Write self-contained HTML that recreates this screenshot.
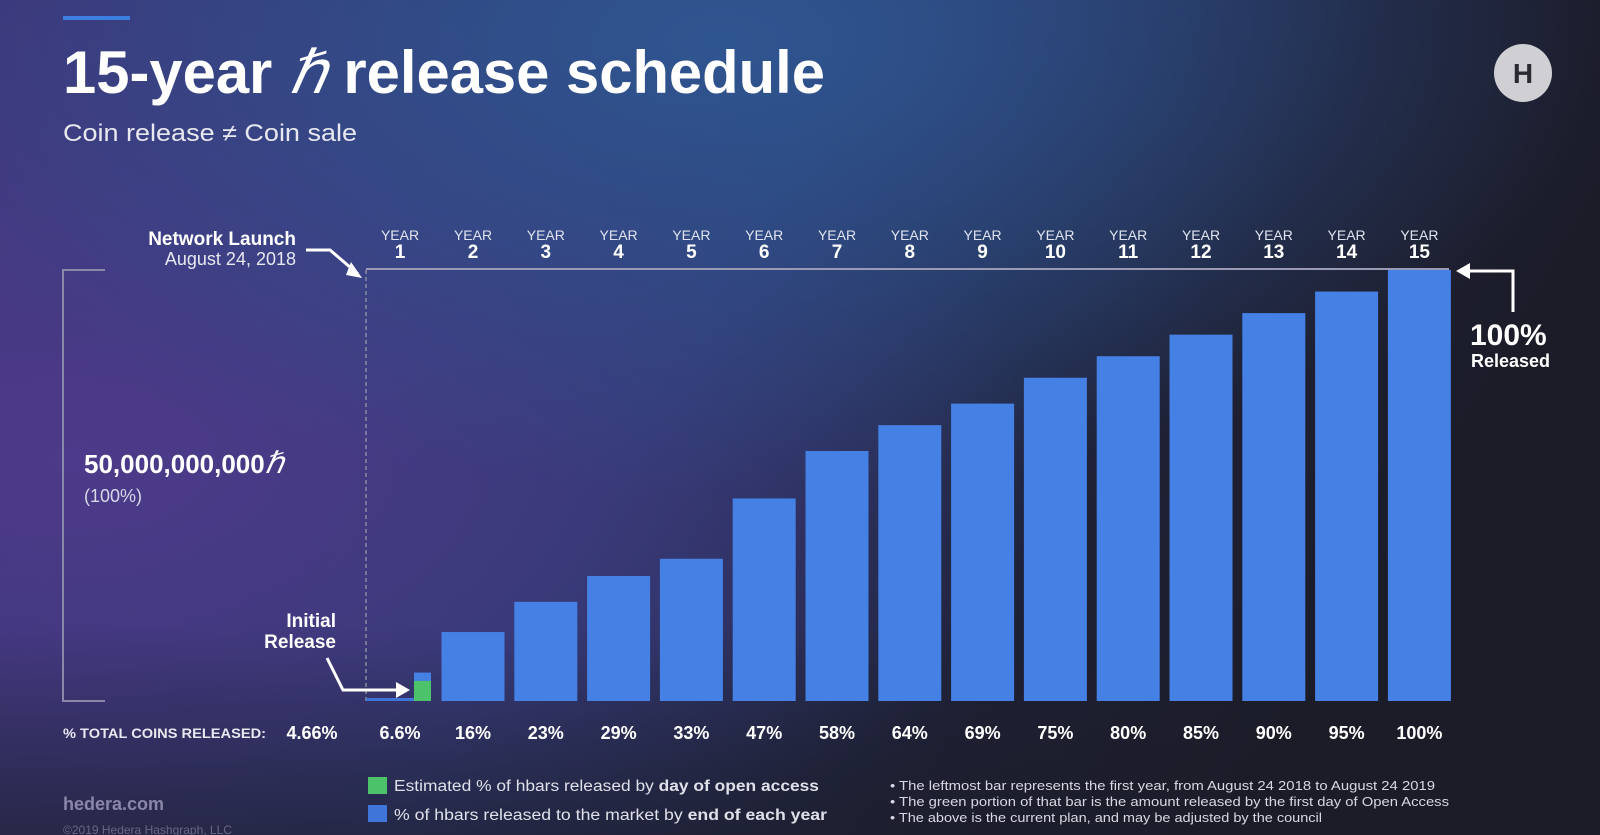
<!DOCTYPE html>
<html><head><meta charset="utf-8"><style>
html,body{margin:0;padding:0;width:1600px;height:835px;overflow:hidden;background:#1c1c28}
svg{display:block;font-family:"Liberation Sans",sans-serif}
</style></head><body>
<svg id="chart" width="1600" height="835" viewBox="0 0 1600 835" xmlns="http://www.w3.org/2000/svg">
<defs>
<radialGradient id="g1" cx="0.05" cy="0.55" r="0.6"><stop offset="0" stop-color="#4d3a8a"/><stop offset="1" stop-color="#4d3a8a" stop-opacity="0"/></radialGradient>
<radialGradient id="g2" cx="0.45" cy="0.05" r="0.55"><stop offset="0" stop-color="#2f5590"/><stop offset="1" stop-color="#2f5590" stop-opacity="0"/></radialGradient>
<linearGradient id="g0" x1="0" y1="0" x2="1" y2="0.3"><stop offset="0" stop-color="#3e3478"/><stop offset="0.5" stop-color="#2a3a6e"/><stop offset="0.8" stop-color="#1e2034"/><stop offset="1" stop-color="#1c1c28"/></linearGradient>
<linearGradient id="g3" x1="0" y1="0" x2="0" y2="1"><stop offset="0.75" stop-color="#1c1c28" stop-opacity="0"/><stop offset="1" stop-color="#1c1c28" stop-opacity="0.6"/></linearGradient>
</defs>
<rect width="1600" height="835" fill="url(#g0)"/>
<rect width="1600" height="835" fill="url(#g1)"/>
<rect width="1600" height="835" fill="url(#g2)"/>
<rect width="1600" height="835" fill="url(#g3)"/>
<rect x="63" y="16" width="67" height="4" fill="#3d7fe0"/>
<text x="63" y="93" font-size="60" font-weight="bold" fill="#fff" textLength="762" lengthAdjust="spacingAndGlyphs">15-year <tspan font-family="Liberation Serif" font-style="italic" font-weight="normal">ℏ</tspan> release schedule</text>
<text x="63" y="141" font-size="24" fill="#e8e8f0" textLength="294" lengthAdjust="spacingAndGlyphs">Coin release ≠ Coin sale</text>
<g><circle cx="1523" cy="73" r="29" fill="#cfcfd4"/><text x="1523" y="83" font-size="28" font-weight="bold" fill="#2a2a33" text-anchor="middle">H</text></g>
<path d="M105 270 H63 V701 H105" fill="none" stroke="#8a88a8" stroke-width="2"/>
<line x1="366" y1="270" x2="366" y2="701" stroke="#8a8aa0" stroke-width="1.5" stroke-dasharray="4,3"/>
<line x1="366" y1="269" x2="1449" y2="269" stroke="#9a9ab4" stroke-width="2"/>
<text x="296" y="245" font-size="19" font-weight="bold" fill="#fff" text-anchor="end">Network Launch</text>
<text x="296" y="265" font-size="18" fill="#e8e8f0" text-anchor="end">August 24, 2018</text>
<path d="M306 250 H330 L358 274" fill="none" stroke="#fff" stroke-width="3"/>
<path d="M351 262 L362 278 L346 275 Z" fill="#fff"/>
<text x="84" y="473" font-size="26" font-weight="bold" fill="#fff">50,000,000,000<tspan font-family="Liberation Serif" font-style="italic" font-weight="normal" font-size="30">ℏ</tspan></text>
<text x="84" y="502" font-size="18" fill="#d8d8e8">(100%)</text>
<text x="336" y="627" font-size="19" font-weight="bold" fill="#fff" text-anchor="end">Initial</text>
<text x="336" y="648" font-size="19" font-weight="bold" fill="#fff" text-anchor="end">Release</text>
<path d="M327 658 L343 690 H398" fill="none" stroke="#fff" stroke-width="3"/>
<path d="M396 682 L410 690 L396 698 Z" fill="#fff"/>
<path d="M1513 312 V271 H1468" fill="none" stroke="#fff" stroke-width="3"/>
<path d="M1470 263 L1456 271 L1470 279 Z" fill="#fff"/>
<text x="1470" y="345" font-size="30" font-weight="bold" fill="#fff">100%</text>
<text x="1471" y="367" font-size="18" font-weight="bold" fill="#fff">Released</text>
<text x="63" y="738" font-size="14" font-weight="bold" fill="#e8e8f0" textLength="203" lengthAdjust="spacingAndGlyphs">% TOTAL COINS RELEASED:</text>
<text x="312" y="739" font-size="18" font-weight="bold" fill="#fff" text-anchor="middle">4.66%</text>
<g id="bars"></g>
<rect x="368" y="777" width="19" height="17" fill="#4cc26a"/>
<text x="394" y="791" font-size="15.5" fill="#e0e0ea" textLength="425" lengthAdjust="spacingAndGlyphs">Estimated % of hbars released by <tspan font-weight="bold">day of open access</tspan></text>
<rect x="368" y="805" width="19" height="17" fill="#3f74d8"/>
<text x="394" y="820" font-size="15.5" fill="#e0e0ea" textLength="433" lengthAdjust="spacingAndGlyphs">% of hbars released to the market by <tspan font-weight="bold">end of each year</tspan></text>
<g font-size="13" fill="#d8d8e4">
<text x="890" y="790" textLength="545" lengthAdjust="spacingAndGlyphs">• The leftmost bar represents the first year, from August 24 2018 to August 24 2019</text>
<text x="890" y="806" textLength="559" lengthAdjust="spacingAndGlyphs">• The green portion of that bar is the amount released by the first day of Open Access</text>
<text x="890" y="822" textLength="432" lengthAdjust="spacingAndGlyphs">• The above is the current plan, and may be adjusted by the council</text>
</g>
<text x="63" y="810" font-size="18" font-weight="bold" fill="#8a86a8">hedera.com</text>
<text x="63" y="834" font-size="12" fill="#6a6688">©2019 Hedera Hashgraph, LLC</text>
</svg>
<script>
const years = [1,2,3,4,5,6,7,8,9,10,11,12,13,14,15];
const released = [6.6,16,23,29,33,47,58,64,69,75,80,85,90,95,100];
const labels = ["6.6%","16%","23%","29%","33%","47%","58%","64%","69%","75%","80%","85%","90%","95%","100%"];
const openAccess = [4.66];
const NS = "http://www.w3.org/2000/svg";
const baseY = 701, topY = 270;
const yScale = v => baseY - (baseY - topY) * v / 100;
const xCenter = i => 400 + (i === 0 ? 0 : 73 + (i - 1) * 72.8);
const g = document.getElementById('bars');
function mk(tag, attrs){const e=document.createElementNS(NS,tag);for(const k in attrs)e.setAttribute(k,attrs[k]);g.appendChild(e);return e;}
years.forEach((yr,i)=>{
  const cx = xCenter(i);
  let t = mk('text',{x:cx,y:240,'font-size':14,fill:'#e0e4f0','text-anchor':'middle'});
  t.textContent='YEAR';
  
  
  let n = mk('text',{x:cx,y:258,'font-size':19,'font-weight':'bold',fill:'#fff','text-anchor':'middle'});
  n.textContent=String(yr);
  
  
  if(i===0){
    let line = mk('rect',{x:366,y:baseY-3,width:48,height:3,fill:'#3f74d8'});
    
    
    let b = mk('rect',{x:414,y:yScale(released[0]),width:17,height:baseY-yScale(released[0]),fill:'#4580e4'});
    
    
    let gr = mk('rect',{x:414,y:yScale(openAccess[0]),width:17,height:baseY-yScale(openAccess[0]),fill:'#4cc26a'});
    
    
  } else {
    let b = mk('rect',{x:cx-31.5,y:yScale(released[i]),width:63,height:baseY-yScale(released[i]),fill:'#4580e4'});
    
    
  }
  let p = mk('text',{x:cx,y:739,'font-size':18,'font-weight':'bold',fill:'#fff','text-anchor':'middle'});
  p.textContent=labels[i];
  
  
});
</script>
</body></html>
